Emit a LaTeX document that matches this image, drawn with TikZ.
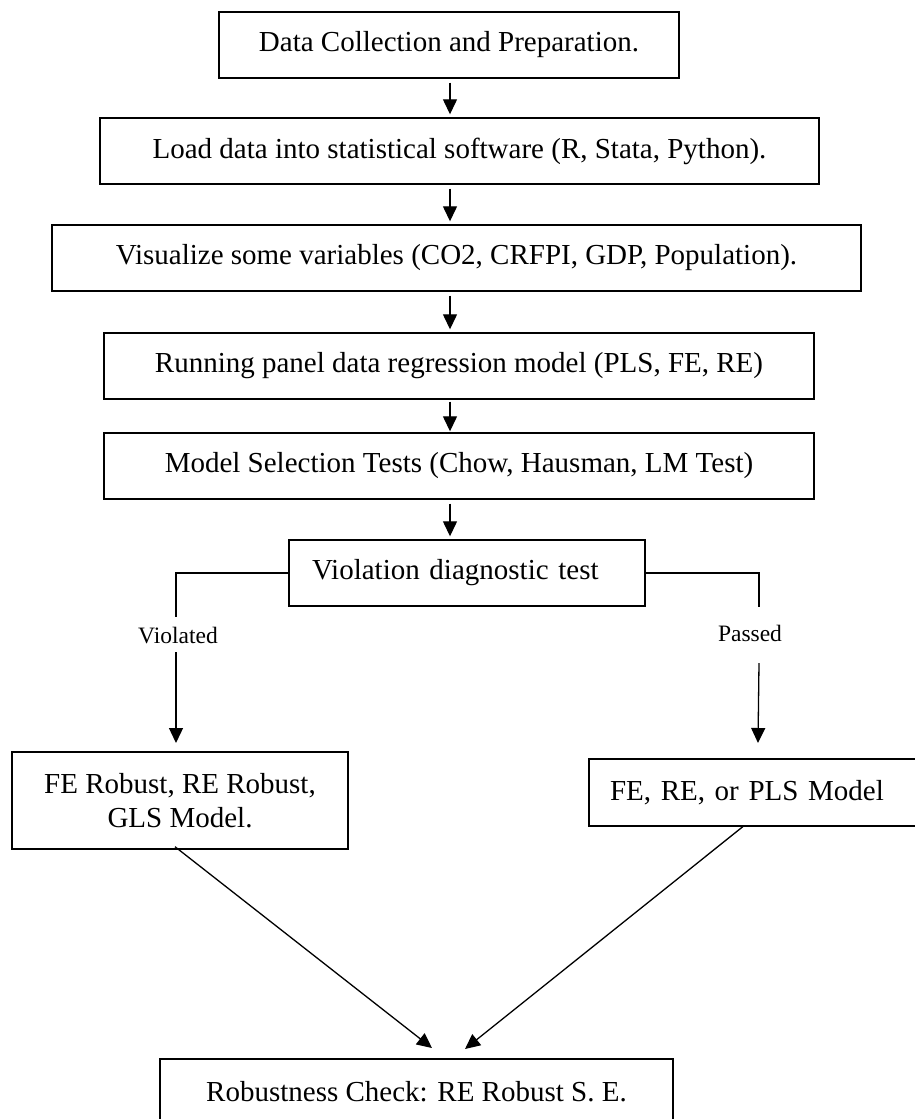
\documentclass[tikz,border=0pt]{standalone}
\usepackage{fontspec}
\setmainfont{Liberation Serif}
\usetikzlibrary{arrows.meta}
\begin{document}
\begin{tikzpicture}[x=1pt,y=-1pt,
  box/.style={draw, line width=1.4pt, inner sep=0pt, font=\fontsize{29}{34}\selectfont, align=center},
  conn/.style={line width=1.3pt},
  arr/.style={conn, -{Triangle[length=15pt,width=14pt]}},
  lbl/.style={font=\fontsize{23.5}{28}\selectfont, inner sep=0pt}]
\useasboundingbox (0,0) rectangle (915,1119);
\fill[white] (0,0) rectangle (915,1119);
\clip (0,0) rectangle (915,1119);

\node[box, minimum width=460pt, minimum height=66pt] (b1) at (449,45) {Data Collection and Preparation.};
\node[box, minimum width=719pt, minimum height=66pt] (b2) at (459.5,151) {Load data into statistical software (R, Stata, Python).};
\node[box, minimum width=809pt, minimum height=66pt] (b3) at (456.5,258) {Visualize some variables (CO2, CRFPI, GDP, Population).};
\node[box, minimum width=710pt, minimum height=66pt] (b4) at (459,366) {Running panel data regression model (PLS, FE, RE)};
\node[box, minimum width=710pt, minimum height=66pt] (b5) at (459,466) {Model Selection Tests (Chow, Hausman, LM Test)};
\node[box, minimum width=356pt, minimum height=66pt, text width=310pt, inner xsep=23pt, align=left] (b6) at (467,573) {Violation diagnostic test};
\node[box, minimum width=336pt, minimum height=97pt] (b7) at (180,800.5) {FE Robust, RE Robust,\\GLS Model.};
\node[box, minimum width=371pt, minimum height=67pt, text width=329pt, inner xsep=21pt, align=left] (b8) at (774.5,792.5) {FE, RE, or PLS Model};
\node[box, minimum width=513pt, minimum height=66pt] (b9) at (416.5,1092) {Robustness Check: RE Robust S. E.};

\coordinate (ax) at (450,0);
\draw[arr, shorten <=4pt, shorten >=3pt] (b1.south -| ax) -- (b2.north -| ax);
\draw[arr, shorten <=4pt, shorten >=3pt] (b2.south -| ax) -- (b3.north -| ax);
\draw[arr, shorten <=4pt, shorten >=3pt] (b3.south -| ax) -- (b4.north -| ax);
\draw[arr, shorten <=2pt, shorten >=1pt] (b4.south -| ax) -- (b5.north -| ax);
\draw[arr, shorten <=4pt, shorten >=3pt] (b5.south -| ax) -- (b6.north -| ax);

% Violated branch
\coordinate (vA) at (176,617);
\coordinate (vB) at (176,652);
\coordinate (vC) at (176,743);
\draw[conn] (b6.west) -| (vA);
\node[lbl] (lv) at (178,636) {Violated};
\draw[arr] (vB) -- (vC);

% Passed branch
\coordinate (pA) at (759,607);
\coordinate (pB) at (759,663);
\coordinate (pC) at (758,743);
\draw[conn] (b6.east) -| (pA);
\node[lbl] (lp) at (750,633) {Passed};
\draw[arr] (pB) -- (pC);

% to robustness check
\coordinate (tL) at (432,1048);
\coordinate (tR) at (465,1049);
\draw[arr] ([xshift=-5pt,yshift=3pt]b7.south) -- (tL);
\draw[arr] ([xshift=-30.5pt,yshift=1pt]b8.south) -- (tR);
\end{tikzpicture}
\end{document}
